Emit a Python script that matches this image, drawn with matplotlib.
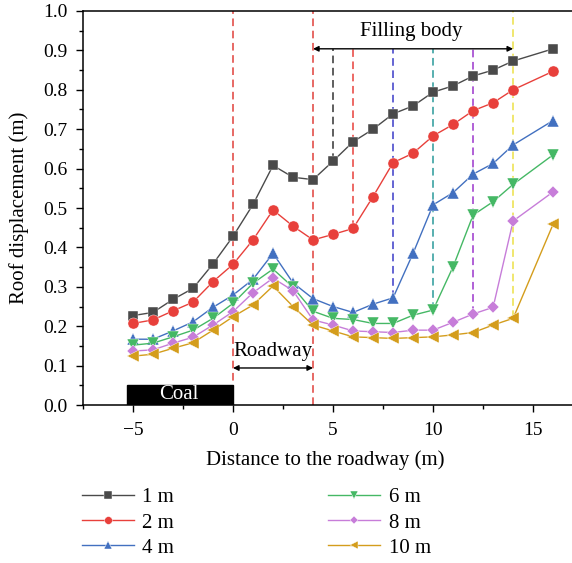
import numpy as np
import matplotlib
matplotlib.use("Agg")
import matplotlib.pyplot as plt
from matplotlib.ticker import MultipleLocator, FormatStrFormatter
from matplotlib.patches import Rectangle

plt.rcParams["font.family"] = ["Liberation Serif", "DejaVu Serif"]

# distance to the roadway (m)
x = [-5, -4, -3, -2, -1, 0, 1, 2, 3, 4, 5, 6, 7, 8, 9, 10, 11, 12, 13, 14, 16]

# roof displacement (m) for each series
d1 = [0.227, 0.235, 0.268, 0.296, 0.358, 0.428, 0.509, 0.608, 0.578, 0.572, 0.619,
      0.668, 0.700, 0.739, 0.759, 0.794, 0.810, 0.835, 0.850, 0.873, 0.904]
d2 = [0.207, 0.216, 0.239, 0.261, 0.313, 0.357, 0.419, 0.495, 0.454, 0.419, 0.433,
      0.448, 0.529, 0.615, 0.639, 0.683, 0.712, 0.747, 0.767, 0.800, 0.847]
d4 = [0.167, 0.167, 0.188, 0.211, 0.248, 0.279, 0.319, 0.385, 0.310, 0.270, 0.250,
      0.235, 0.256, 0.272, 0.385, 0.508, 0.539, 0.586, 0.613, 0.660, 0.722]
d6 = [0.152, 0.157, 0.173, 0.190, 0.220, 0.258, 0.309, 0.345, 0.299, 0.238, 0.220,
      0.217, 0.207, 0.207, 0.228, 0.241, 0.351, 0.482, 0.516, 0.560, 0.635]
d8 = [0.137, 0.140, 0.157, 0.172, 0.203, 0.237, 0.285, 0.322, 0.290, 0.216, 0.203,
      0.188, 0.186, 0.184, 0.190, 0.190, 0.210, 0.231, 0.248, 0.467, 0.541]
d10 = [0.124, 0.129, 0.144, 0.158, 0.190, 0.224, 0.254, 0.302, 0.250, 0.203, 0.188,
       0.173, 0.171, 0.169, 0.171, 0.173, 0.178, 0.184, 0.203, 0.220, 0.459]

series = [
    ("1 m", d1, "#4a4a4a", "s"),
    ("2 m", d2, "#e8403b", "o"),
    ("4 m", d4, "#4270c0", "^"),
    ("6 m", d6, "#45b865", "v"),
    ("8 m", d8, "#c77dd9", "D"),
    ("10 m", d10, "#d49d1c", "<"),
]
marker_sizes = {"s": 7.5, "o": 8, "^": 8.5, "v": 8.5, "D": 6.5, "<": 8.5}

# filling-body boundary lines: x, colour, series it drops to
bounds = [
    (5, "#333333", d1),
    (6, "#e8403b", d2),
    (8, "#3a3ac8", d4),
    (10, "#2a9a9a", d6),
    (12, "#9b35cc", d8),
]

fig = plt.figure(figsize=(5.72, 5.63), dpi=100)
ax = fig.add_axes([0.145, 0.2806, 0.857, 0.6999])

dash = (0, (5, 3))
for xv in (0, 4):
    ax.axvline(xv, color="#e0403a", lw=1.1, ls=dash, zorder=1)
ax.plot([14, 14], [d10[x.index(14)], 1.0], color="#ece046", lw=1.1, ls=dash, zorder=1)
for xv, c, d in bounds:
    ax.plot([xv, xv], [d[x.index(xv)], 0.904], color=c, lw=1.1, ls=dash, zorder=1)

for label, d, c, m in series:
    ax.plot(x, d, color=c, lw=1.0, marker=m, ms=marker_sizes[m],
            mec="white", mew=0.3, label=label, zorder=3)

# annotations
ax.annotate("", xy=(4, 0.904), xytext=(14, 0.904),
            arrowprops=dict(arrowstyle="<|-|>", color="black", lw=1.0,
                            mutation_scale=8, shrinkA=0, shrinkB=0))
ax.text(8.9, 0.948, "Filling body", ha="center", va="center", fontsize=15)
ax.annotate("", xy=(0, 0.094), xytext=(4, 0.094),
            arrowprops=dict(arrowstyle="<|-|>", color="black", lw=1.0,
                            mutation_scale=8, shrinkA=0, shrinkB=0))
ax.text(2.0, 0.137, "Roadway", ha="center", va="center", fontsize=15)
ax.add_patch(Rectangle((-5.3, 0), 5.3, 0.05, color="black", zorder=2))
ax.text(-2.7, 0.027, "Coal", ha="center", va="center", fontsize=15,
        color="white", zorder=4)

ax.set_xlim(-7.5, 17)
ax.set_ylim(0, 1.0)
ax.xaxis.set_major_locator(MultipleLocator(5))
ax.xaxis.set_minor_locator(MultipleLocator(2.5))
ax.yaxis.set_major_locator(MultipleLocator(0.1))
ax.yaxis.set_minor_locator(MultipleLocator(0.05))
ax.yaxis.set_major_formatter(FormatStrFormatter("%.1f"))
ax.tick_params(which="both", direction="out", labelsize=14)
ax.tick_params(which="major", length=5, width=1)
ax.tick_params(which="minor", length=3, width=1)
ax.tick_params(axis="x", pad=7)
ax.tick_params(axis="y", pad=6)
ax.spines["right"].set_visible(False)
for s in ("left", "bottom", "top"):
    ax.spines[s].set_linewidth(1.1)
ax.set_xlabel("Distance to the roadway (m)", fontsize=15)
ax.set_ylabel("Roof displacement (m)", fontsize=15)
ax.xaxis.set_label_coords(0.495, -0.115)
ax.yaxis.set_label_coords(-0.11, 0.5)

fig.legend(loc="upper left", bbox_to_anchor=(0.110, 0.167), ncol=2, frameon=False,
           fontsize=15, handlelength=2.5, handletextpad=0.4, columnspacing=7.4,
           labelspacing=0.27, numpoints=1, borderpad=0.4, markerscale=0.7)

fig.savefig("out.png", dpi=100)
